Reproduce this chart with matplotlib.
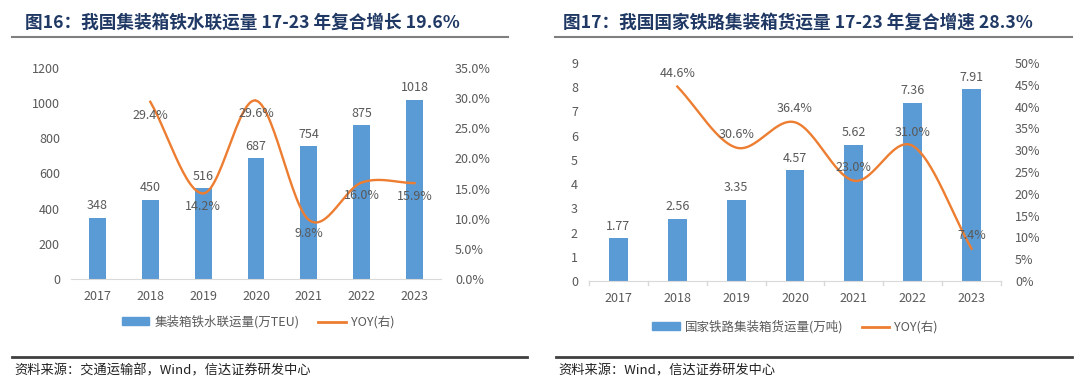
import numpy as np
import matplotlib
matplotlib.use('Agg')
import matplotlib.pyplot as plt
from matplotlib.lines import Line2D
from matplotlib.patches import Patch

plt.rcParams['font.family'] = ['Noto Sans CJK SC', 'DejaVu Sans']

# Dados
anos = ['2017', '2018', '2019', '2020', '2021', '2022', '2023']

# 图16
volume_tiesui = [348, 450, 516, 687, 754, 875, 1018]
yoy_tiesui = [None, 29.4, 14.2, 29.6, 9.8, 16.0, 15.9]

# 图17
volume_tielu = [1.77, 2.56, 3.35, 4.57, 5.62, 7.36, 7.91]
yoy_tielu = [None, 44.6, 30.6, 36.4, 23.0, 31.0, 7.4]

COR_BARRA = '#5B9BD5'
COR_LINHA = '#ED7D31'
COR_TEXTO = '#595959'
COR_TITULO = '#1F3864'
W, H = 1080, 386


def suavizar(x, y, n=30):
    # curva suavizada tipo Excel (Catmull-Rom)
    x = np.asarray(x, float)
    y = np.asarray(y, float)
    px = np.concatenate([[2 * x[0] - x[1]], x, [2 * x[-1] - x[-2]]])
    py = np.concatenate([[2 * y[0] - y[1]], y, [2 * y[-1] - y[-2]]])
    xs, ys = [], []
    t = np.linspace(0, 1, n)
    for i in range(1, len(px) - 2):
        p0, p1, p2, p3 = px[i - 1], px[i], px[i + 1], px[i + 2]
        q0, q1, q2, q3 = py[i - 1], py[i], py[i + 1], py[i + 2]
        f = lambda a0, a1, a2, a3: 0.5 * (2 * a1 + (-a0 + a2) * t
                                          + (2 * a0 - 5 * a1 + 4 * a2 - a3) * t ** 2
                                          + (-a0 + 3 * a1 - 3 * a2 + a3) * t ** 3)
        xs.append(f(p0, p1, p2, p3))
        ys.append(f(q0, q1, q2, q3))
    return np.concatenate(xs), np.concatenate(ys)


def eixos(x0, x1, ytop, ybot):
    return fig.add_axes([x0 / W, (H - ybot) / H, (x1 - x0) / W, (ybot - ytop) / H])


def painel(ax, volumes, yoy, ymax, ystep, y2max, y2step, fmt_y2, fmt_val,
           rotulo_abaixo, ticks_x, nome_barra):
    x = np.arange(len(anos))
    ax.bar(x, volumes, width=0.32, color=COR_BARRA, zorder=2)
    for xi, v in zip(x, volumes):
        ax.annotate(fmt_val(v), (xi, v), xytext=(0, 4), textcoords='offset points',
                    ha='center', va='bottom', fontsize=9, color=COR_TEXTO)
    ax.set_xlim(-0.5, len(anos) - 0.5)
    ax.set_ylim(0, ymax)
    ax.set_yticks(np.arange(0, ymax + ystep / 2, ystep))
    ax.set_xticks(x)
    ax.set_xticklabels(anos)
    for s in ['top', 'right', 'left']:
        ax.spines[s].set_visible(False)
    ax.spines['bottom'].set_color('#D9D9D9')
    ax.tick_params(axis='y', length=0, labelsize=9, labelcolor=COR_TEXTO, pad=8)
    ax.tick_params(axis='x', length=0, labelsize=9, labelcolor=COR_TEXTO, pad=8)
    if ticks_x:
        for b in np.arange(-0.5, len(anos), 1):
            ax.plot([b, b], [0, -0.02], color='#D9D9D9', lw=1,
                    transform=ax.get_xaxis_transform(), clip_on=False)

    ax2 = ax.twinx()
    xl = [xi for xi, v in zip(x, yoy) if v is not None]
    yl = [v for v in yoy if v is not None]
    sx, sy = suavizar(xl, yl)
    ax2.plot(sx, sy, color=COR_LINHA, lw=1.7, zorder=3)
    for xi, v in zip(xl, yl):
        off = -5 if rotulo_abaixo else 5
        ax2.annotate(f'{v:.1f}%', (xi, v), xytext=(0, off), textcoords='offset points',
                     ha='center', va='top' if rotulo_abaixo else 'bottom',
                     fontsize=9, color=COR_TEXTO)
    ax2.set_ylim(0, y2max)
    ax2.set_yticks(np.arange(0, y2max + y2step / 2, y2step))
    ax2.set_yticklabels([fmt_y2(v) for v in np.arange(0, y2max + y2step / 2, y2step)])
    for s in ax2.spines.values():
        s.set_visible(False)
    ax2.tick_params(axis='y', length=0, labelsize=9, labelcolor=COR_TEXTO, pad=10)
    return [Patch(color=COR_BARRA), Line2D([], [], color=COR_LINHA, lw=2)], [nome_barra, 'YOY(右)']


fig = plt.figure(figsize=(W / 100, H / 100), dpi=100)

# 图16
ax1 = eixos(71, 441, 68, 279)
h, l = painel(ax1, volume_tiesui, yoy_tiesui, 1200, 200, 35, 5,
              lambda v: f'{v:.1f}%', lambda v: f'{v:d}', True, False, '集装箱铁水联运量(万TEU)')
fig.legend(h, l, loc='center', bbox_to_anchor=(258 / W, 1 - 322 / H), ncol=2, frameon=False,
           fontsize=9, labelcolor=COR_TEXTO, handlelength=2.2, handleheight=0.6,
           columnspacing=1.5, handletextpad=0.4)

# 图17
ax3 = eixos(589, 1001, 63, 281)
h, l = painel(ax3, volume_tielu, yoy_tielu, 9, 1, 50, 5,
              lambda v: f'{v:.0f}%', lambda v: f'{v:.2f}', False, True, '国家铁路集装箱货运量(万吨)')
fig.legend(h, l, loc='center', bbox_to_anchor=(795 / W, 1 - 327 / H), ncol=2, frameon=False,
           fontsize=9, labelcolor=COR_TEXTO, handlelength=2.2, handleheight=0.6,
           columnspacing=1.5, handletextpad=0.4)

# títulos, linhas e fontes
fig.text(25 / W, 1 - 23 / H, '图16：我国集装箱铁水联运量 17-23 年复合增长 19.6%',
         fontsize=12.7, fontweight='bold', color=COR_TITULO, va='center')
fig.text(563 / W, 1 - 23 / H, '图17：我国国家铁路集装箱货运量 17-23 年复合增速 28.3%',
         fontsize=12.7, fontweight='bold', color=COR_TITULO, va='center')
for x0, x1 in [(12, 508), (555, 1072)]:
    fig.add_artist(Line2D([x0 / W, x1 / W], [1 - 37 / H] * 2, color='#7F7F7F', lw=1.5))
for x0, x1 in [(12, 527), (556, 1072)]:
    fig.add_artist(Line2D([x0 / W, x1 / W], [1 - 357 / H] * 2, color='#404040', lw=2))
fig.text(14 / W, 1 - 371 / H, '资料来源：交通运输部，Wind，信达证券研发中心',
         fontsize=9.5, color='#222222', va='center', style='italic')
fig.text(558 / W, 1 - 371 / H, '资料来源：Wind，信达证券研发中心',
         fontsize=9.5, color='#222222', va='center', style='italic')

fig.savefig('out.png', dpi=100)
